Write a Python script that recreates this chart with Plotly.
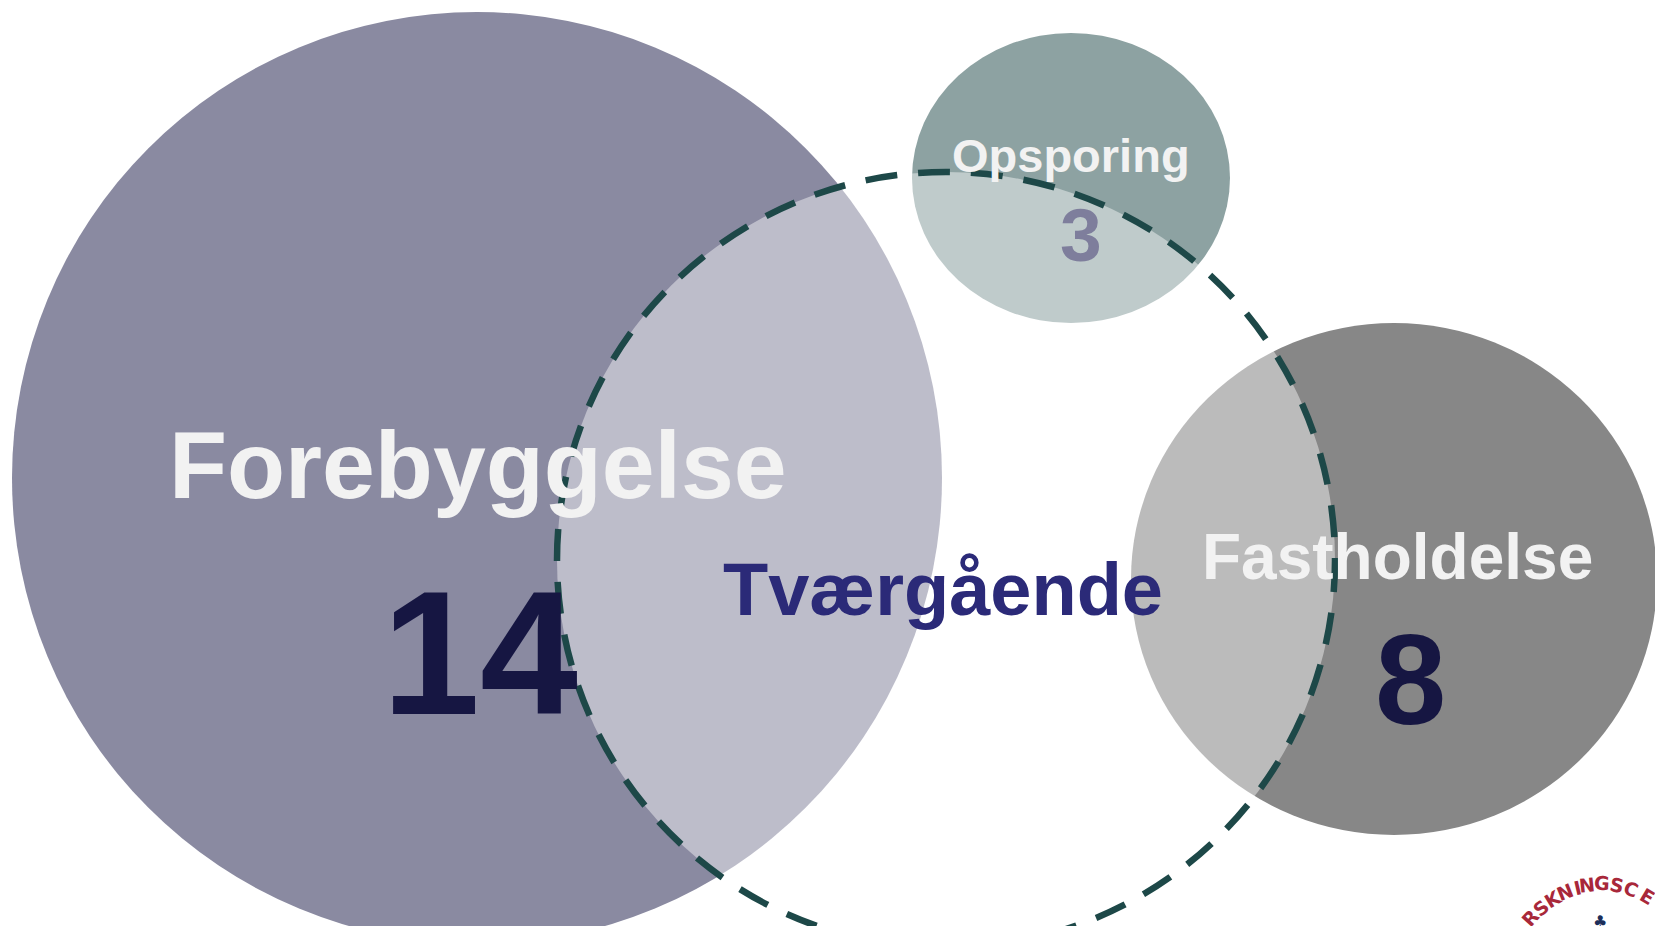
import plotly.graph_objects as go

# ---- data ----
categories = ["Forebyggelse", "Opsporing", "Fastholdelse"]
counts = [14, 3, 8]
cross_label = "Tværgående"
logo_text = "RSKNINGSCE"

# ---- geometry (pixel space, y down) ----
W, H = 1655, 926
ellipses = {  # cx, cy, rx, ry
    "Forebyggelse": (477, 478, 465, 466),
    "Opsporing": (1071, 178, 159, 145),
    "Fastholdelse": (1394, 579, 263, 256),
}
cross = (946, 560, 389, 388)
fills = {"Forebyggelse": "#8A8AA1", "Opsporing": "#8DA2A2", "Fastholdelse": "#878787"}
label_pos = {  # x, y, size
    "Forebyggelse": (478, 465, 95),
    "Opsporing": (1071, 155, 47),
    "Fastholdelse": (1397, 557, 64),
}
count_pos = {
    "Forebyggelse": (480, 653, 176, "#161642"),
    "Opsporing": (1081, 235, 75, "#7E7E9C"),
    "Fastholdelse": (1410, 679, 128, "#161642"),
}
logo_xy = [(1530, 918, -48), (1541, 908, -40), (1553, 899, -31), (1565, 892, -22),
           (1577, 888, -13), (1587, 885, -6), (1602, 883, 3), (1617, 885, 12),
           (1631, 889, 21), (1647, 896, 31)]

fig = go.Figure()
fig.add_trace(go.Scatter(x=[0, W], y=[0, H], mode="markers",
                         marker=dict(opacity=0), hoverinfo="skip", showlegend=False))

shapes = []
for c in categories:
    cx, cy, rx, ry = ellipses[c]
    shapes.append(dict(type="circle", xref="x", yref="y",
                       x0=cx - rx, x1=cx + rx, y0=cy - ry, y1=cy + ry,
                       fillcolor=fills[c], line=dict(width=0), layer="above"))
cx, cy, rx, ry = cross
shapes.append(dict(type="circle", xref="x", yref="y",
                   x0=cx - rx, x1=cx + rx, y0=cy - ry, y1=cy + ry,
                   fillcolor="rgba(255,255,255,0.44)", line=dict(width=0), layer="above"))
shapes.append(dict(type="circle", xref="x", yref="y",
                   x0=cx - rx, x1=cx + rx, y0=cy - ry, y1=cy + ry,
                   fillcolor="rgba(0,0,0,0)",
                   line=dict(color="#1D4848", width=6.5, dash="32px,21px"), layer="above"))

font_family = "Liberation Sans, Arial, sans-serif"
annotations = []
for c, n in zip(categories, counts):
    x, y, s = label_pos[c]
    annotations.append(dict(x=x, y=y, xref="x", yref="y", text=f"<b>{c}</b>",
                            showarrow=False, xanchor="center", yanchor="middle",
                            font=dict(family=font_family, size=s, color="#F2F2F2")))
    x, y, s, col = count_pos[c]
    annotations.append(dict(x=x, y=y, xref="x", yref="y", text=f"<b>{n}</b>",
                            showarrow=False, xanchor="center", yanchor="middle",
                            font=dict(family=font_family, size=s, color=col)))
annotations.append(dict(x=943, y=589, xref="x", yref="y", text=f"<b>{cross_label}</b>",
                        showarrow=False, xanchor="center", yanchor="middle",
                        font=dict(family=font_family, size=74, color="#2B2A78")))

# partial logo at bottom-right
for ch, (x, y, a) in zip(logo_text, logo_xy):
    annotations.append(dict(x=x, y=y, xref="x", yref="y", text=f"<b>{ch}</b>",
                            showarrow=False, textangle=a,
                            xanchor="center", yanchor="middle",
                            font=dict(family="DejaVu Sans", size=19, color="#A8283A")))
annotations.append(dict(x=1600, y=921, xref="x", yref="y", text="♣",
                        showarrow=False, xanchor="center", yanchor="middle",
                        font=dict(family="DejaVu Sans", size=16, color="#1C2E5A")))

fig.update_layout(
    width=W, height=H, margin=dict(l=0, r=0, t=0, b=0),
    paper_bgcolor="white", plot_bgcolor="white",
    xaxis=dict(range=[0, W], visible=False, fixedrange=True),
    yaxis=dict(range=[H, 0], visible=False, fixedrange=True),
    shapes=shapes, annotations=annotations, showlegend=False,
)
fig.write_html("out.html",
               config={"displayModeBar": False},
               post_script="document.body.style.margin='0';document.body.style.overflow='hidden';")
